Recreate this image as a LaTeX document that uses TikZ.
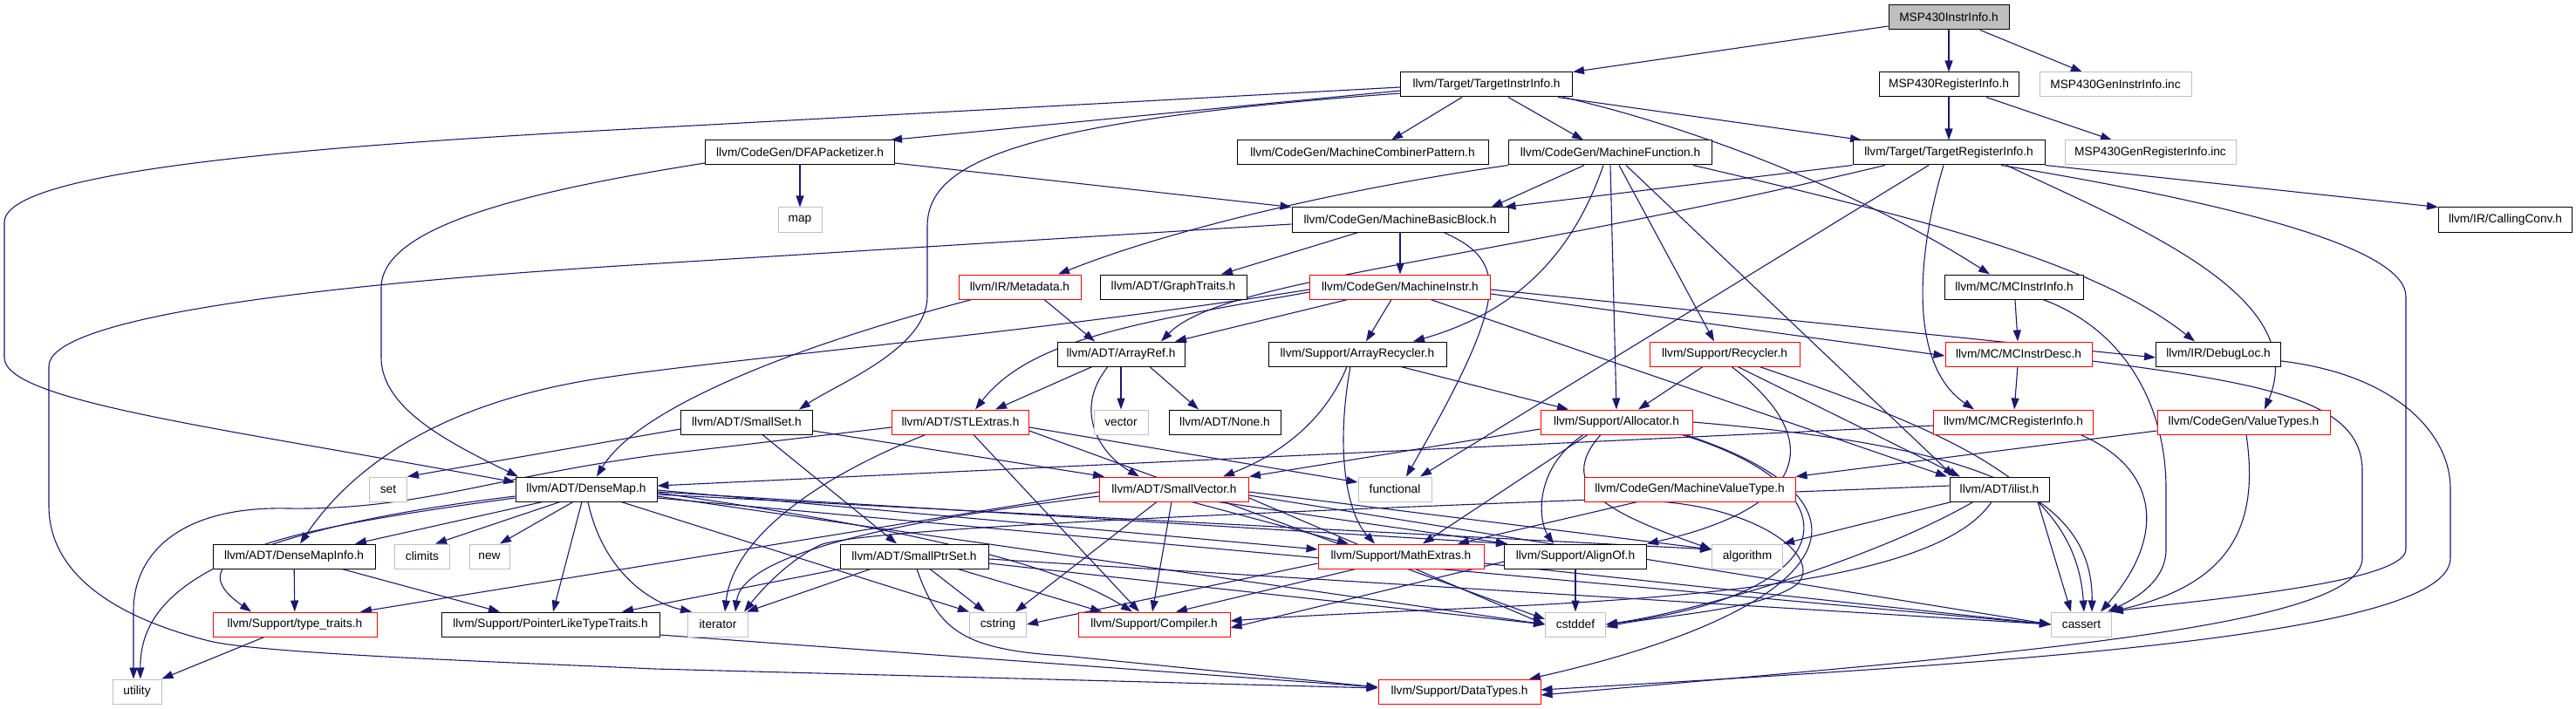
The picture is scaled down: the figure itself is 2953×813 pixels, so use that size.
\documentclass[tikz,border=0pt]{standalone}
\usepackage{fontspec}
\setmainfont{Liberation Sans}
\usetikzlibrary{arrows.meta}
\definecolor{edgec}{HTML}{191970}
\definecolor{grayb}{HTML}{BFBFBF}
\pgfdeclarelayer{bg}
\pgfsetlayers{bg,main}
\tikzset{
  nd/.style={draw=black, fill=white, line width=1pt, minimum height=28pt, inner sep=0pt,
    font={\fontsize{13.7pt}{16pt}\selectfont}},
  rd/.style={nd, draw=red},
  gy/.style={nd, draw=grayb},
  rt/.style={nd, fill=grayb},
  ed/.style={draw=edgec, line width=1.1pt, -{Triangle[length=13pt,width=9pt]}},
}
\begin{document}
\begin{tikzpicture}[x=1pt,y=-1pt]
\useasboundingbox (0,0) rectangle (2953,813);
\node[rt, minimum width=138] (root) at (2234,20) {MSP430InstrInfo.h};
\node[nd, minimum width=197] (tii) at (1704,97) {llvm/Target/TargetInstrInfo.h};
\node[nd, minimum width=160] (mri) at (2234,97) {MSP430RegisterInfo.h};
\node[gy, minimum width=174] (geni) at (2425,97) {MSP430GenInstrInfo.inc};
\node[nd, minimum width=217] (dfa) at (917,175) {llvm/CodeGen/DFAPacketizer.h};
\node[nd, minimum width=288] (mcp) at (1562,175) {llvm/CodeGen/MachineCombinerPattern.h};
\node[nd, minimum width=233] (mf) at (1846,175) {llvm/CodeGen/MachineFunction.h};
\node[nd, minimum width=220] (tri) at (2234,175) {llvm/Target/TargetRegisterInfo.h};
\node[gy, minimum width=196] (genr) at (2465,175) {MSP430GenRegisterInfo.inc};
\node[gy, minimum width=50] (map) at (917,252) {map};
\node[nd, minimum width=248] (mbb) at (1605,252) {llvm/CodeGen/MachineBasicBlock.h};
\node[nd, minimum width=153] (cc) at (2872,252) {llvm/IR/CallingConv.h};
\node[rd, minimum width=140] (meta) at (1169,329) {llvm/IR/Metadata.h};
\node[nd, minimum width=168] (gt) at (1345,329) {llvm/ADT/GraphTraits.h};
\node[rd, minimum width=207] (mi) at (1605,329) {llvm/CodeGen/MachineInstr.h};
\node[nd, minimum width=159] (mcii) at (2309,329) {llvm/MC/MCInstrInfo.h};
\node[nd, minimum width=146] (ar) at (1285,406) {llvm/ADT/ArrayRef.h};
\node[nd, minimum width=204] (arec) at (1556,406) {llvm/Support/ArrayRecycler.h};
\node[rd, minimum width=172] (rec) at (1977,406) {llvm/Support/Recycler.h};
\node[rd, minimum width=168] (mcid) at (2314,406) {llvm/MC/MCInstrDesc.h};
\node[nd, minimum width=143] (dl) at (2543,406) {llvm/IR/DebugLoc.h};
\node[nd, minimum width=151] (sset) at (856,484) {llvm/ADT/SmallSet.h};
\node[rd, minimum width=157] (stl) at (1101,484) {llvm/ADT/STLExtras.h};
\node[gy, minimum width=62] (vec) at (1285,484) {vector};
\node[nd, minimum width=128] (none) at (1404,484) {llvm/ADT/None.h};
\node[rd, minimum width=174] (alloc) at (1853,484) {llvm/Support/Allocator.h};
\node[rd, minimum width=183] (mcri) at (2308,484) {llvm/MC/MCRegisterInfo.h};
\node[rd, minimum width=198] (vt) at (2572,484) {llvm/CodeGen/ValueTypes.h};
\node[gy, minimum width=43] (set) at (445,561) {set};
\node[nd, minimum width=162] (dm) at (672,561) {llvm/ADT/DenseMap.h};
\node[rd, minimum width=171] (sv) at (1346,561) {llvm/ADT/SmallVector.h};
\node[gy, minimum width=84] (func) at (1599,561) {functional};
\node[rd, minimum width=242] (mvt) at (1937,561) {llvm/CodeGen/MachineValueType.h};
\node[nd, minimum width=114] (ilist) at (2292,561) {llvm/ADT/ilist.h};
\node[nd, minimum width=186] (dmi) at (337,638) {llvm/ADT/DenseMapInfo.h};
\node[gy, minimum width=63] (climits) at (484,638) {climits};
\node[gy, minimum width=46] (new) at (561,638) {new};
\node[nd, minimum width=170] (sps) at (1048,638) {llvm/ADT/SmallPtrSet.h};
\node[rd, minimum width=190] (mex) at (1606,638) {llvm/Support/MathExtras.h};
\node[nd, minimum width=163] (align) at (1806,638) {llvm/Support/AlignOf.h};
\node[gy, minimum width=81] (algo) at (2003,638) {algorithm};
\node[rd, minimum width=188] (tt) at (338,716) {llvm/Support/type\_traits.h};
\node[nd, minimum width=250] (pltt) at (631,716) {llvm/Support/PointerLikeTypeTraits.h};
\node[gy, minimum width=69] (iter) at (823,716) {iterator};
\node[gy, minimum width=65] (cstr) at (1144,716) {cstring};
\node[rd, minimum width=174] (comp) at (1323,716) {llvm/Support/Compiler.h};
\node[gy, minimum width=69] (cstddef) at (1806,716) {cstddef};
\node[gy, minimum width=69] (cassert) at (2386,716) {cassert};
\node[gy, minimum width=56] (util) at (157,793) {utility};
\node[rd, minimum width=186] (dt) at (1673,793) {llvm/Support/DataTypes.h};

\begin{pgfonlayer}{bg}
% root
\draw[ed] ([yshift=-10]root.west) -- (tii.north east);
\draw[ed] (root) -- (mri);
\draw[ed] ([xshift=36]root.south) -- ([xshift=-38]geni.north);
% MSP430RegisterInfo
\draw[ed] (mri) -- (tri);
\draw[ed] ([xshift=43]mri.south) -- ([xshift=-44]genr.north);
% TargetInstrInfo
\draw[ed] ([yshift=-3]tii.west) -- (740,147) .. controls (300,170) and (5,200) .. (5,255) -- (5,410) .. controls (5,460) and (250,490) .. ([yshift=8]dm.west);
\draw[ed] ([yshift=-7]tii.west) -- ([xshift=-5]dfa.north east);
\draw[ed] ([yshift=-10]tii.west) .. controls (1150,140) and (1063,190) .. (1063,260) -- (1063,340) .. controls (1063,400) and (960,440) .. ([xshift=60]sset.north);
\draw[ed] ([xshift=-28]tii.south) -- ([xshift=33]mcp.north);
\draw[ed] ([xshift=25]tii.south) -- ([xshift=-31]mf.north);
\draw[ed] ([xshift=82]tii.south) -- ([xshift=-100]tri.north);
\draw[ed] ([xshift=88]tii.south) .. controls (1960,150) and (2150,230) .. ([xshift=-28]mcii.north);
% DFAPacketizer
\draw[ed] (dfa) -- (map);
\draw[ed] ([yshift=-12]dfa.east) -- (mbb.north west);
\draw[ed] ([yshift=-12]dfa.west) .. controls (600,220) and (437,260) .. (437,330) -- (437,410) .. controls (437,470) and (520,510) .. ([xshift=-78]dm.north);
% MachineFunction
\draw[ed] ([xshift=-30]mf.south) -- ([xshift=-20]mbb.north east);
\draw[ed] (mf.south west) .. controls (1550,215) and (1350,260) .. ([xshift=44]meta.north);
\draw[ed] ([xshift=-8]mf.south) .. controls (1800,300) and (1730,360) .. ([xshift=64]arec.north);
\draw[ed] (mf.south) -- (alloc.north);
\draw[ed] ([xshift=10]mf.south) -- ([xshift=-12]rec.north);
\draw[ed] ([xshift=18]mf.south) -- ([xshift=-52]ilist.north);
\draw[ed] ([xshift=95]mf.south) .. controls (2200,250) and (2400,300) .. ([xshift=-27]dl.north);
% TargetRegisterInfo
\draw[ed] (tri.south west) -- ([xshift=-5]mbb.north east);
\draw[ed] ([xshift=-73]tri.south) .. controls (1700,300) and (1400,320) .. ([xshift=46]ar.north);
\draw[ed] ([xshift=-23]tri.south) -- ([xshift=29]func.north);
\draw[ed] ([xshift=-6]tri.south) .. controls (2195,300) and (2190,420) .. ([xshift=-45]mcri.north);
\draw[ed] ([xshift=66]tri.south) .. controls (2450,260) and (2650,340) .. ([xshift=24]vt.north);
\draw[ed] ([xshift=60]tri.south) .. controls (2600,240) and (2758,290) .. (2758,340) -- (2758,630) .. controls (2758,670) and (2500,690) .. (cassert.north east);
\draw[ed] (tri.south east) -- (cc.north west);
% MachineBasicBlock
\draw[ed] ([xshift=-48]mbb.south) -- ([xshift=55]gt.north);
\draw[ed] (mbb) -- (mi);
\draw[ed] ([xshift=50]mbb.south) .. controls (1730,300) and (1730,340) .. ([xshift=13]func.north);
\draw[ed] ([yshift=-5]mbb.west) -- (740,303) .. controls (300,330) and (56,370) .. (56,420) -- (56,580) .. controls (56,680) and (180,720) .. (240,735) .. controls (300,750) and (600,760) .. (750,767) -- ([yshift=4]dt.west);
% Metadata
\draw[ed] ([xshift=28]meta.south) -- ([xshift=-30]ar.north);
\draw[ed] ([xshift=-55]meta.south) .. controls (900,400) and (730,470) .. ([xshift=12]dm.north);
% MachineInstr
\draw[ed] ([yshift=-3]mi.west) .. controls (1200,380) and (850,410) .. (700,432) .. controls (500,460) and (400,540) .. ([xshift=7]dmi.north);
\draw[ed] ([yshift=-6]mi.west) .. controls (1300,370) and (1180,390) .. ([xshift=17]stl.north);
\draw[ed] ([xshift=-60]mi.south) -- ([xshift=62]ar.north);
\draw[ed] ([xshift=-10]mi.south) -- ([xshift=10]arec.north);
\draw[ed] ([xshift=35]mi.south) -- ([xshift=-60]ilist.north);
\draw[ed] ([yshift=-8]mi.east) -- ([yshift=-2]mcid.west);
\draw[ed] ([yshift=-3]mi.east) -- ([yshift=-4]dl.west);
% MCInstrInfo
\draw[ed] (mcii) -- (mcid);
\draw[ed] ([xshift=33]mcii.south) .. controls (2440,380) and (2483,470) .. (2483,560) -- (2483,630) .. controls (2483,670) and (2440,690) .. ([xshift=30]cassert.north);
% ArrayRef
\draw[ed] ([xshift=-33]ar.south) -- ([xshift=40]stl.north);
\draw[ed] (ar) -- (vec);
\draw[ed] ([xshift=33]ar.south) -- ([xshift=-30]none.north);
\draw[ed] ([xshift=-15]ar.south) .. controls (1230,470) and (1260,520) .. ([xshift=-40]sv.north);
% ArrayRecycler
\draw[ed] ([xshift=-12]arec.south) .. controls (1520,480) and (1470,520) .. ([xshift=56]sv.north);
\draw[ed] ([xshift=-8]arec.south) .. controls (1530,520) and (1545,590) .. ([xshift=-30]mex.north);
\draw[ed] ([xshift=50]arec.south) -- ([xshift=-55]alloc.north);
% Recycler
\draw[ed] ([xshift=-25]rec.south) -- ([xshift=25]alloc.north);
\draw[ed] ([xshift=8]rec.south) .. controls (2090,500) and (2080,580) .. (align.north east);
\draw[ed] ([xshift=15]rec.south) -- ([xshift=-45]ilist.north);
\draw[ed] ([xshift=40]rec.south) .. controls (2250,500) and (2380,560) .. ([xshift=3]cassert.north);
% MCInstrDesc
\draw[ed] (mcid) -- (mcri);
\draw[ed] ([yshift=-8]mcid.east) .. controls (2600,440) and (2708,460) .. (2708,540) -- (2708,640) .. controls (2708,720) and (2300,750) .. ([yshift=-4]dt.east);
% DebugLoc
\draw[ed] ([yshift=-8]dl.east) .. controls (2750,430) and (2809,500) .. (2809,560) -- (2809,640) .. controls (2809,730) and (2300,760) .. ([yshift=2]dt.east);
% MCRegisterInfo
\draw[ed] ([yshift=-4]mcri.west) -- ([yshift=4]dm.east);
\draw[ed] ([xshift=77]mcri.south) .. controls (2480,540) and (2480,620) .. ([xshift=22]cassert.north);
% ValueTypes
\draw[ed] ([yshift=-10]vt.west) -- (mvt.north east);
\draw[ed] ([xshift=3]vt.south) .. controls (2590,600) and (2560,670) .. ([xshift=33]cassert.north);
% SmallSet
\draw[ed] ([yshift=-8]sset.west) -- (set.north east);
\draw[ed] ([yshift=-10]sset.east) -- ([xshift=-80]sv.north);
\draw[ed] ([xshift=18]sset.south) -- ([xshift=-20]sps.north);
% STLExtras
\draw[ed] ([yshift=-6]stl.west) -- (750,522) .. controls (560,548) and (480,585) .. (330,583) .. controls (200,580) and (153,640) .. (153,700) -- ([xshift=-4]util.north);
\draw[ed] ([xshift=-40]stl.south) .. controls (930,550) and (840,620) .. ([xshift=8]iter.north);
\draw[ed] ([xshift=15]stl.south) -- ([xshift=-17]comp.north);
\draw[ed] ([yshift=-6]stl.east) -- ([yshift=8]func.west);
\draw[ed] ([yshift=-10]stl.east) -- ([yshift=6]cstddef.west);
% Allocator
\draw[ed] ([yshift=-8]alloc.west) -- (sv.north east);
\draw[ed] ([xshift=-33]alloc.south) -- ([xshift=25]mex.north);
\draw[ed] ([xshift=-38]alloc.south) .. controls (1755,540) and (1765,600) .. ([xshift=-25]align.north);
\draw[ed] ([xshift=-18]alloc.south) .. controls (1780,560) and (1850,590) .. ([yshift=8]algo.west);
\draw[ed] ([xshift=75]alloc.south) .. controls (2130,560) and (2120,680) .. (cstddef.east);
\draw[ed] ([xshift=79]alloc.south) .. controls (2180,580) and (2100,700) .. ([xshift=80]dt.north);
\draw[ed] (alloc.east) .. controls (2250,510) and (2400,560) .. ([xshift=12]cassert.north);
% MachineValueType
\draw[ed] ([xshift=-60]mvt.south) -- ([xshift=65]mex.north);
\draw[ed] ([xshift=-30]mvt.south) .. controls (2020,585) and (2090,640) .. (2060,670) .. controls (2020,700) and (1900,706) .. ([yshift=-3]cstddef.east);
% ilist
\draw[ed] ([yshift=4]ilist.west) .. controls (1800,575) and (1000,600) .. (940,625) .. controls (900,645) and (870,680) .. ([xshift=30]iter.north);
\draw[ed] ([xshift=-55]ilist.south) -- (algo.north east);
\draw[ed] ([xshift=-30]ilist.south) .. controls (2150,640) and (1950,700) .. (cstddef.east);
\draw[ed] ([xshift=-9]ilist.south) .. controls (2200,700) and (1700,690) .. ([yshift=4]comp.east);
\draw[ed] ([xshift=44]ilist.south) -- ([xshift=-12]cassert.north);
% DenseMap
\draw[ed] ([xshift=-50]dm.south) -- ([xshift=70]dmi.north);
\draw[ed] ([xshift=-30]dm.south) -- ([xshift=15]climits.north);
\draw[ed] ([xshift=-15]dm.south) -- ([xshift=12]new.north);
\draw[ed] ([xshift=-5]dm.south) -- ([xshift=3]pltt.north);
\draw[ed] ([xshift=2]dm.south) .. controls (690,650) and (740,690) .. ([xshift=-30]iter.north);
\draw[ed] ([yshift=-10]dm.west) .. controls (300,610) and (200,640) .. ([xshift=-50]tt.north);
\draw[ed] ([yshift=-8]dm.west) .. controls (250,610) and (160,680) .. ([xshift=4]util.north);
\draw[ed] ([xshift=40]dm.south) -- (cstr.north west);
\draw[ed] ([yshift=-4]dm.east) .. controls (1000,600) and (1200,640) .. ([xshift=-25]comp.north);
\draw[ed] ([yshift=-1]dm.east) -- ([yshift=8]mex.west);
\draw[ed] ([yshift=-3]dm.east) -- ([xshift=-78]align.north);
\draw[ed] ([yshift=-6]dm.east) -- ([yshift=8]algo.west);
\draw[ed] ([yshift=-8]dm.east) -- (cstddef.west);
\draw[ed] ([yshift=-10]dm.east) -- (cassert.west);
% SmallVector
\draw[ed] ([yshift=-8]sv.west) .. controls (1000,600) and (850,640) .. ([xshift=20]iter.north);
\draw[ed] ([yshift=-3]sv.west) -- ([xshift=75]tt.north);
\draw[ed] ([xshift=-20]sv.south) -- ([xshift=20]cstr.north);
\draw[ed] ([xshift=-3]sv.south) -- ([xshift=-2]comp.north);
\draw[ed] ([xshift=20]sv.south) -- ([xshift=-60]mex.north);
\draw[ed] ([xshift=50]sv.south) -- ([xshift=-78]align.north);
\draw[ed] ([yshift=-3]sv.east) -- ([yshift=8]algo.west);
\draw[ed] ([yshift=-7]sv.east) -- (cassert.west);
\draw[ed] ([yshift=-10]sv.east) -- (cstddef.west);
% SmallPtrSet
\draw[ed] ([xshift=-50]sps.south) -- ([xshift=33]iter.north);
\draw[ed] ([xshift=18]sps.south) -- ([xshift=-15]cstr.north);
\draw[ed] ([xshift=50]sps.south) -- ([xshift=-60]comp.north);
\draw[ed] (sps.south west) -- ([xshift=82]pltt.north);
\draw[ed] ([xshift=3]sps.south) .. controls (1075,720) and (1100,745) .. (1220,752) -- ([yshift=5]dt.west);
\draw[ed] ([yshift=-3]sps.east) -- (cassert.west);
\draw[ed] ([yshift=-8]sps.east) -- (cstddef.west);
% MathExtras
\draw[ed] ([xshift=-52]mex.south) -- ([xshift=25]comp.north);
\draw[ed] ([yshift=-8]mex.west) -- (cstr.east);
\draw[ed] ([yshift=-8]mex.east) -- (cassert.west);
% AlignOf
\draw[ed] (align) -- (cstddef);
\draw[ed] ([yshift=-6]align.west) -- ([yshift=-4]comp.east);
% DenseMapInfo, type_traits, PointerLikeTypeTraits
\draw[ed] (dmi) -- (tt);
\draw[ed] ([xshift=55]dmi.south) -- ([xshift=-58]pltt.north);
\draw[ed] ([xshift=-35]tt.south) -- (util.north east);
\draw[ed] ([yshift=-12]pltt.east) -- ([yshift=5]dt.west);
\end{pgfonlayer}
\end{tikzpicture}
\end{document}
